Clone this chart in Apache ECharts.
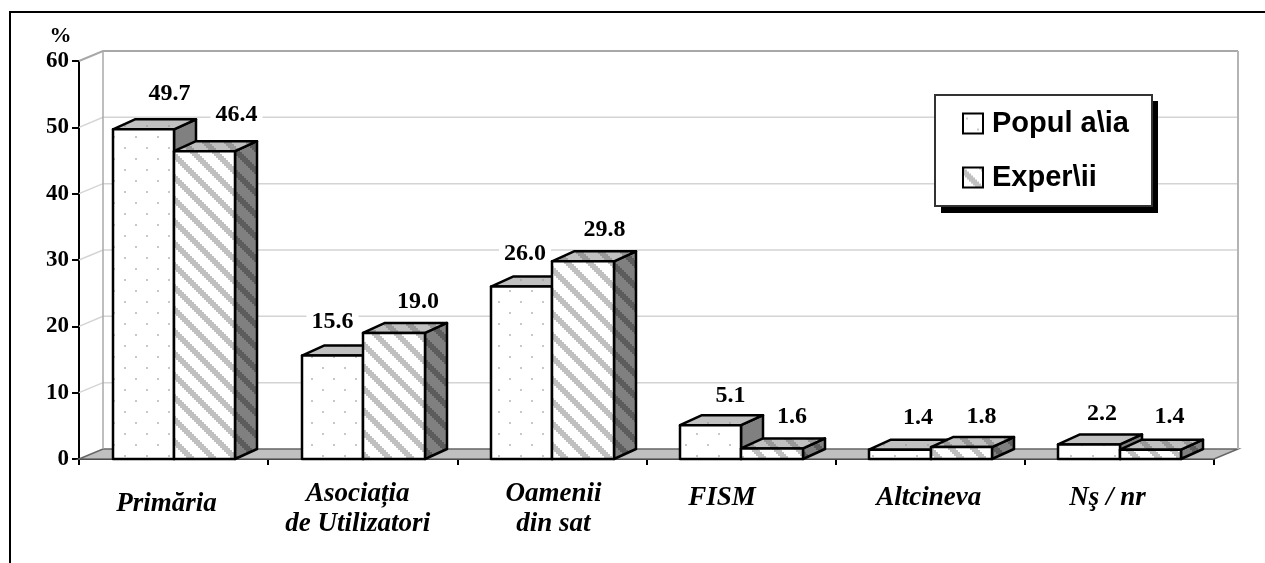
<!DOCTYPE html>
<html>
<head>
<meta charset="utf-8">
<style>html,body{margin:0;padding:0;background:#fff}#c{width:1265px;height:563px}</style>
<script src="https://cdn.jsdelivr.net/npm/echarts@6/dist/echarts.min.js"></script>
</head>
<body>
<div id="c"></div>
<script>
var categories = ['Primăria', 'Asociația\nde Utilizatori', 'Oamenii\ndin sat', 'FISM', 'Altcineva', 'Nş / nr'];
var populatia = [49.7, 15.6, 26.0, 5.1, 1.4, 2.2];
var expertii = [46.4, 19.0, 29.8, 1.6, 1.8, 1.4];
var yTicks = [0, 10, 20, 30, 40, 50, 60];
var seriesNames = ['Popul a\\ia', 'Exper\\ii'];

// hand placement of the value labels relative to the bar's front-top centre
var labelDx = [[26, 0, 3.5, 20, 18, 13], [32, 24, 21.5, 20, 20, 19]];
var labelDy = [[-36, -34, -33, -29, -32, -31], [-36, -31.5, -32, -32, -30, -33]];
// hand placement of the category labels
var catShift = [7, 5, -1.5, 19, 1.5, 12];
var catDrop = [12, 2, 2, 6, 6, 6];

var DX = 22, DY = 10, WALLX = 24, WALLY = 10;

function tile(w, h, bg, draw) {
  var c = document.createElement('canvas');
  c.width = w; c.height = h;
  var g = c.getContext('2d');
  g.fillStyle = bg; g.fillRect(0, 0, w, h);
  draw(g);
  return { image: c, repeat: 'repeat' };
}
function dots(bg, col) {
  return tile(22, 22, bg, function (g) {
    g.fillStyle = col;
    g.fillRect(3, 4, 2, 2);
    g.fillRect(14, 15, 2, 2);
  });
}
function stripes(bg, col) {
  var P = 22, H = 8;
  return tile(P, P, bg, function (g) {
    g.fillStyle = col;
    for (var i = 0; i < P; i += 2) {
      g.fillRect(i, i, 2, H);
      if (i + H > P) g.fillRect(i, i - P, 2, H);
    }
  });
}
var styles = [
  { front: dots('#ffffff', '#c8c8c8'), top: dots('#c0c0c0', '#a8a8a8'), side: '#808080' },
  { front: stripes('#ffffff', '#c0c0c0'), top: stripes('#c0c0c0', '#989898'), side: stripes('#808080', '#5c5c5c') }
];

function barRender(si, values) {
  return function (params, api) {
    var c = api.value(0), v = api.value(1);
    var p0 = api.coord([c, 0]), p1 = api.coord([c, v]);
    var w = api.size([1, 0])[0] * 0.325;
    var xl = Math.round(p0[0] + 0.4 + (si === 0 ? -w : 0)), xr = Math.round(p0[0] + 0.4 + (si === 0 ? 0 : w)), yb = p0[1], yt = p1[1];
    var st = styles[si];
    var line = { stroke: '#000', lineWidth: 2.5, lineJoin: 'round' };
    function poly(pts, fill) {
      return { type: 'polygon', shape: { points: pts }, style: Object.assign({ fill: fill }, line) };
    }
    var idx = params.dataIndex;
    return {
      type: 'group',
      children: [
        poly([[xr, yb], [xr + DX, yb - DY], [xr + DX, yt - DY], [xr, yt]], st.side),
        poly([[xl, yt], [xl + DX, yt - DY], [xr + DX, yt - DY], [xr, yt]], st.top),
        poly([[xl, yb], [xl, yt], [xr, yt], [xr, yb]], st.front),
        {
          type: 'text',
          style: {
            text: values[idx].toFixed(1),
            x: (xl + xr) / 2 + labelDx[si][idx],
            y: yt + labelDy[si][idx],
            align: 'center', verticalAlign: 'middle',
            font: 'bold 24px "Liberation Serif"', fill: '#000',
            backgroundColor: '#fff', padding: [0, 5, 0, 5]
          }
        }
      ]
    };
  };
}

function wallRender(params, api) {
  var v = api.value(0);
  var cs = params.coordSys;
  var y = api.coord([0, v])[1];
  var x0 = cs.x, x1 = cs.x + cs.width;
  var col = v === 60 ? '#a8a8a8' : '#d4d4d4';
  var kids = [];
  if (v === 0) {
    kids.push({
      type: 'polygon',
      shape: { points: [[x0, y], [x0 + WALLX, y - WALLY], [x1 + WALLX, y - WALLY], [x1, y]] },
      style: { fill: '#c0c0c0', stroke: '#666', lineWidth: 1.5 }
    });
  } else {
    kids.push({
      type: 'polyline',
      shape: { points: [[x0, y], [x0 + WALLX, y - WALLY], [x1 + WALLX, y - WALLY]] },
      style: { fill: 'none', stroke: col, lineWidth: v === 60 ? 2 : 1.5 }
    });
  }
  if (v === 60) {
    var yb = api.coord([0, 0])[1] - WALLY;
    kids.push({ type: 'line', shape: { x1: x0 + WALLX, y1: y - WALLY, x2: x0 + WALLX, y2: yb }, style: { stroke: '#a8a8a8', lineWidth: 1.5 } });
    kids.push({ type: 'line', shape: { x1: x1 + WALLX, y1: y - WALLY, x2: x1 + WALLX, y2: yb }, style: { stroke: '#b4b4b4', lineWidth: 2 } });
  }
  return { type: 'group', children: kids };
}

var catData = categories.map(function (name, i) {
  var s = catShift[i] * 2;
  return { value: name, textStyle: { padding: [catDrop[i], Math.max(s, 0), 0, Math.max(-s, 0)] } };
});
function rows(values) { return values.map(function (v, i) { return [i, v]; }); }

var chart = echarts.init(document.getElementById('c'), null, { renderer: 'canvas' });
chart.setOption({
  animation: false,
  backgroundColor: '#fff',
  graphic: [
    { type: 'polyline', silent: true, z: 0,
      shape: { points: [[10, 563], [10, 12], [1265, 12]] },
      style: { fill: 'none', stroke: '#000', lineWidth: 2 } },
    { type: 'rect', silent: true, z: 3.5, shape: { x: 941, y: 101, width: 217, height: 112 }, style: { fill: '#000' } },
    { type: 'rect', silent: true, z: 3.6, shape: { x: 935, y: 95, width: 217, height: 111 }, style: { fill: '#fff', stroke: '#333', lineWidth: 2 } }
  ],
  grid: { left: 79, right: 51, top: 61, bottom: 104 },
  legend: {
    left: 962, top: 109, orient: 'vertical',
    padding: 0, itemGap: 25,
    itemWidth: 20, itemHeight: 20,
    z: 4,
    textStyle: { fontFamily: 'Liberation Sans', fontWeight: 'bold', fontSize: 29, color: '#000', padding: [0, 0, 0, 4] },
    data: [
      { name: seriesNames[0], icon: 'rect', itemStyle: { color: styles[0].front, borderColor: '#000', borderWidth: 2 } },
      { name: seriesNames[1], icon: 'rect', itemStyle: { color: styles[1].front, borderColor: '#000', borderWidth: 2 } }
    ]
  },
  xAxis: {
    type: 'category', data: catData, boundaryGap: true,
    axisLine: { show: true, lineStyle: { color: '#000', width: 2 } },
    axisTick: { show: true, length: 6, lineStyle: { color: '#000', width: 2 } },
    axisLabel: {
      interval: 0, margin: 18, lineHeight: 30, verticalAlign: 'top',
      fontFamily: 'Liberation Serif', fontWeight: 'bold', fontStyle: 'italic', fontSize: 27, color: '#000'
    }
  },
  yAxis: {
    type: 'value', min: 0, max: 60, interval: 10,
    name: '%', nameLocation: 'end', nameGap: 14,
    nameTextStyle: { fontFamily: 'Liberation Serif', fontWeight: 'bold', fontSize: 22, color: '#000', padding: [0, 37, 0, 0] },
    splitLine: { show: false },
    axisLine: { show: true, lineStyle: { color: '#000', width: 2 } },
    axisTick: { show: true, length: 7, lineStyle: { color: '#000', width: 2 } },
    axisLabel: {
      margin: 10,
      formatter: function (v) { return yTicks.indexOf(v) >= 0 ? String(v) : ''; },
      fontFamily: 'Liberation Serif', fontWeight: 'bold', fontSize: 23, color: '#000'
    }
  },
  series: [
    { name: 'walls', type: 'custom', silent: true, z: 1, clip: false, coordinateSystem: 'cartesian2d',
      data: yTicks.map(function (v) { return [v]; }), encode: { y: 0 }, renderItem: wallRender },
    { name: seriesNames[0], type: 'custom', z: 2, clip: false, data: rows(populatia), encode: { x: 0, y: 1 },
      renderItem: barRender(0, populatia), itemStyle: { color: '#fff' } },
    { name: seriesNames[1], type: 'custom', z: 3, clip: false, data: rows(expertii), encode: { x: 0, y: 1 },
      renderItem: barRender(1, expertii), itemStyle: { color: '#c0c0c0' } }
  ]
});
</script>
</body>
</html>
